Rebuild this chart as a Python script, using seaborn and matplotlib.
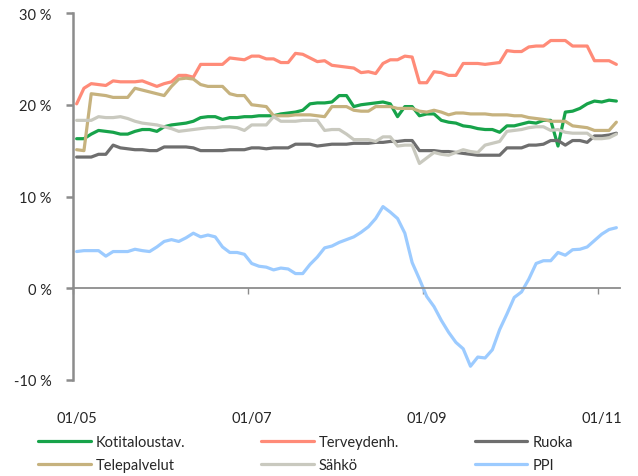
import numpy as np
import pandas as pd
import seaborn as sns
import matplotlib
matplotlib.use("Agg")
import matplotlib.pyplot as plt
from matplotlib.ticker import FixedLocator, FixedFormatter

# ---- data (monthly, 01/2005 .. 03/2011), percent ----
kotitaloustav = [16.3, 16.3, 16.8, 17.2, 17.1, 17.0, 16.8, 16.8, 17.1, 17.3,
                 17.3, 17.1, 17.6, 17.8, 17.9, 18.0, 18.2, 18.6, 18.7, 18.7,
                 18.4, 18.6, 18.6, 18.7, 18.7, 18.8, 18.8, 18.8, 19.0, 19.1,
                 19.2, 19.4, 20.1, 20.2, 20.2, 20.3, 21.0, 21.0, 19.8, 20.0,
                 20.1, 20.2, 20.3, 20.1, 18.7, 19.8, 19.8, 18.8, 19.0, 19.0,
                 18.3, 18.1, 18.0, 17.7, 17.6, 17.4, 17.3, 17.3, 17.0, 17.7,
                 17.7, 17.9, 18.1, 18.0, 18.3, 18.3, 15.5, 19.2, 19.3, 19.6,
                 20.1, 20.4, 20.3, 20.5, 20.4]
terveydenh = [20.1, 21.8, 22.3, 22.2, 22.1, 22.6, 22.5, 22.5, 22.5, 22.6,
              22.3, 22.0, 22.3, 22.5, 23.2, 23.2, 23.0, 24.4, 24.4, 24.4,
              24.4, 25.1, 25.0, 24.9, 25.3, 25.3, 25.0, 25.0, 24.6, 24.6,
              25.6, 25.5, 25.1, 24.7, 24.8, 24.3, 24.2, 24.1, 24.0, 23.5,
              23.6, 23.4, 24.5, 24.9, 24.9, 25.3, 25.2, 22.4, 22.4, 23.6,
              23.5, 23.2, 23.2, 24.5, 24.5, 24.5, 24.4, 24.5, 24.6, 25.9,
              25.8, 25.8, 26.3, 26.4, 26.4, 27.0, 27.0, 27.0, 26.4, 26.4,
              26.4, 24.8, 24.8, 24.8, 24.4]
ruoka = [14.3, 14.3, 14.3, 14.6, 14.6, 15.6, 15.3, 15.2, 15.1, 15.1,
         15.0, 15.0, 15.4, 15.4, 15.4, 15.4, 15.3, 15.0, 15.0, 15.0,
         15.0, 15.1, 15.1, 15.1, 15.3, 15.3, 15.2, 15.3, 15.3, 15.3,
         15.7, 15.7, 15.7, 15.5, 15.6, 15.7, 15.7, 15.7, 15.8, 15.8,
         15.8, 15.9, 15.9, 16.0, 16.0, 16.1, 16.1, 15.0, 15.0, 15.0,
         14.9, 14.9, 14.8, 14.7, 14.6, 14.5, 14.5, 14.5, 14.5, 15.3,
         15.3, 15.3, 15.6, 15.6, 15.7, 16.1, 16.1, 15.6, 16.1, 16.1,
         15.9, 16.6, 16.6, 16.7, 16.9]
telepalvelut = [15.1, 15.0, 21.2, 21.1, 21.0, 20.8, 20.8, 20.8, 21.8, 21.6,
                21.4, 21.2, 21.0, 22.0, 22.8, 22.9, 22.8, 22.2, 22.0, 22.0,
                22.0, 21.2, 21.0, 21.0, 20.0, 19.9, 19.8, 18.8, 18.8, 18.8,
                18.9, 18.9, 18.9, 18.8, 18.7, 19.8, 19.8, 19.8, 19.4, 19.3,
                19.3, 19.8, 19.8, 19.8, 19.6, 19.6, 19.6, 19.3, 19.2, 19.4,
                19.2, 18.9, 19.1, 19.1, 19.0, 19.0, 19.0, 18.9, 18.9, 18.9,
                18.8, 18.8, 18.6, 18.5, 18.4, 18.2, 18.2, 18.2, 17.7, 17.6,
                17.5, 17.2, 17.2, 17.2, 18.1]
sahko = [18.3, 18.3, 18.3, 18.7, 18.6, 18.6, 18.7, 18.5, 18.2, 18.0,
         17.9, 17.8, 17.6, 17.4, 17.1, 17.2, 17.3, 17.4, 17.5, 17.5,
         17.6, 17.6, 17.5, 17.2, 17.8, 17.8, 17.8, 18.7, 18.2, 18.2,
         18.2, 18.3, 18.3, 18.3, 17.2, 17.3, 17.3, 16.8, 16.2, 16.2,
         16.2, 16.0, 16.5, 16.5, 15.5, 15.6, 15.6, 13.6, 14.2, 14.8,
         14.6, 14.5, 14.8, 15.1, 14.9, 14.8, 15.6, 15.8, 16.0, 17.1,
         17.2, 17.3, 17.5, 17.6, 17.6, 17.2, 17.3, 17.0, 16.9, 16.9,
         16.9, 16.3, 16.3, 16.4, 16.8]
ppi = [4.0, 4.1, 4.1, 4.1, 3.5, 4.0, 4.0, 4.0, 4.25, 4.1,
       4.0, 4.5, 5.1, 5.3, 5.1, 5.5, 6.0, 5.6, 5.8, 5.6,
       4.5, 3.9, 3.9, 3.7, 2.7, 2.4, 2.3, 2.0, 2.2, 2.1,
       1.6, 1.6, 2.6, 3.4, 4.4, 4.6, 5.0, 5.3, 5.6, 6.1,
       6.7, 7.6, 8.9, 8.3, 7.6, 6.0, 2.8, 1.0, -0.9, -2.0,
       -3.5, -4.8, -5.9, -6.6, -8.5, -7.5, -7.6, -6.7, -4.5, -2.8,
       -1.0, -0.4, 1.0, 2.7, 3.0, 3.0, 3.9, 3.6, 4.2, 4.25,
       4.5, 5.2, 5.9, 6.4, 6.6]

series_names = ["Kotitaloustav.", "Terveydenh.", "Ruoka", "Telepalvelut", "Sähkö", "PPI"]
series_values = [kotitaloustav, terveydenh, ruoka, telepalvelut, sahko, ppi]
colors = ["#17A34A", "#FF8B78", "#6E6E6E", "#C6B27E", "#C9C9BF", "#9CCBFF"]

x_tick_labels = ["01/05", "01/07", "01/09", "01/11"]
x_tick_months = [0, 24, 48, 72]
y_ticks = [-10, 0, 10, 20, 30]

n_months = len(ppi)
month_pos = np.arange(n_months) + 0.5  # each month centred in its slot

df = pd.concat(
    [pd.DataFrame({"x": month_pos, "value": vals, "series": name})
     for name, vals in zip(series_names, series_values)],
    ignore_index=True,
)

# ---- style ----
sns.set_style("white")
plt.rcParams["font.family"] = ["Lato", "DejaVu Sans"]
axis_grey = "#8C8C8C"
fs = 10.5

fig = plt.figure(figsize=(6.38, 4.77), dpi=100)
W, H = 638, 477
ax = fig.add_axes([73 / W, 1 - 381 / H, (620 - 73) / W, (381 - 14) / H])

sns.lineplot(data=df, x="x", y="value", hue="series", hue_order=series_names,
             palette=colors, linewidth=2.3, ax=ax, legend=True)

handles, labels = ax.get_legend_handles_labels()
ax.get_legend().remove()

ax.set_xlim(0, n_months)
ax.set_ylim(-10, 30)
ax.set_xlabel("")
ax.set_ylabel("")

# spines
for s in ["top", "right"]:
    ax.spines[s].set_visible(False)
ax.spines["left"].set_color(axis_grey)
ax.spines["left"].set_linewidth(1.8)
ax.spines["bottom"].set_position(("data", 0))
ax.spines["bottom"].set_color(axis_grey)
ax.spines["bottom"].set_linewidth(1.3)

# y ticks
ax.yaxis.set_major_locator(FixedLocator(y_ticks))
ax.yaxis.set_major_formatter(FixedFormatter([f"{v} %" for v in y_ticks]))
ax.tick_params(axis="y", direction="out", length=5, width=1.8, color=axis_grey,
               labelsize=fs, pad=10.5, left=True)

# x ticks on zero line (no labels)
ax.xaxis.set_major_locator(FixedLocator(x_tick_months))
ax.tick_params(axis="x", direction="out", length=4, width=1.0, color=axis_grey,
               labelbottom=False, bottom=True)

# x labels at bottom of plot area
sec = ax.secondary_xaxis(0)
sec.set_xticks([m + 0.5 for m in x_tick_months])
sec.set_xticklabels(x_tick_labels)
sec.tick_params(axis="x", length=0, labelsize=fs, pad=22.5)
sec.spines["bottom"].set_visible(False)

# legend (row-major order in 3 columns)
order = [0, 3, 1, 4, 2, 5]
leg = fig.legend([handles[i] for i in order], [labels[i] for i in order],
                 loc="upper left", bbox_to_anchor=(38 / W, 1 - 436 / H),
                 ncol=3, frameon=False, fontsize=fs, handlelength=3.6,
                 handletextpad=0.35, columnspacing=5.2, labelspacing=0.6,
                 borderpad=0, borderaxespad=0)
for lh in leg.legend_handles:
    lh.set_linewidth(2.3)

fig.savefig("out.png", dpi=100)
